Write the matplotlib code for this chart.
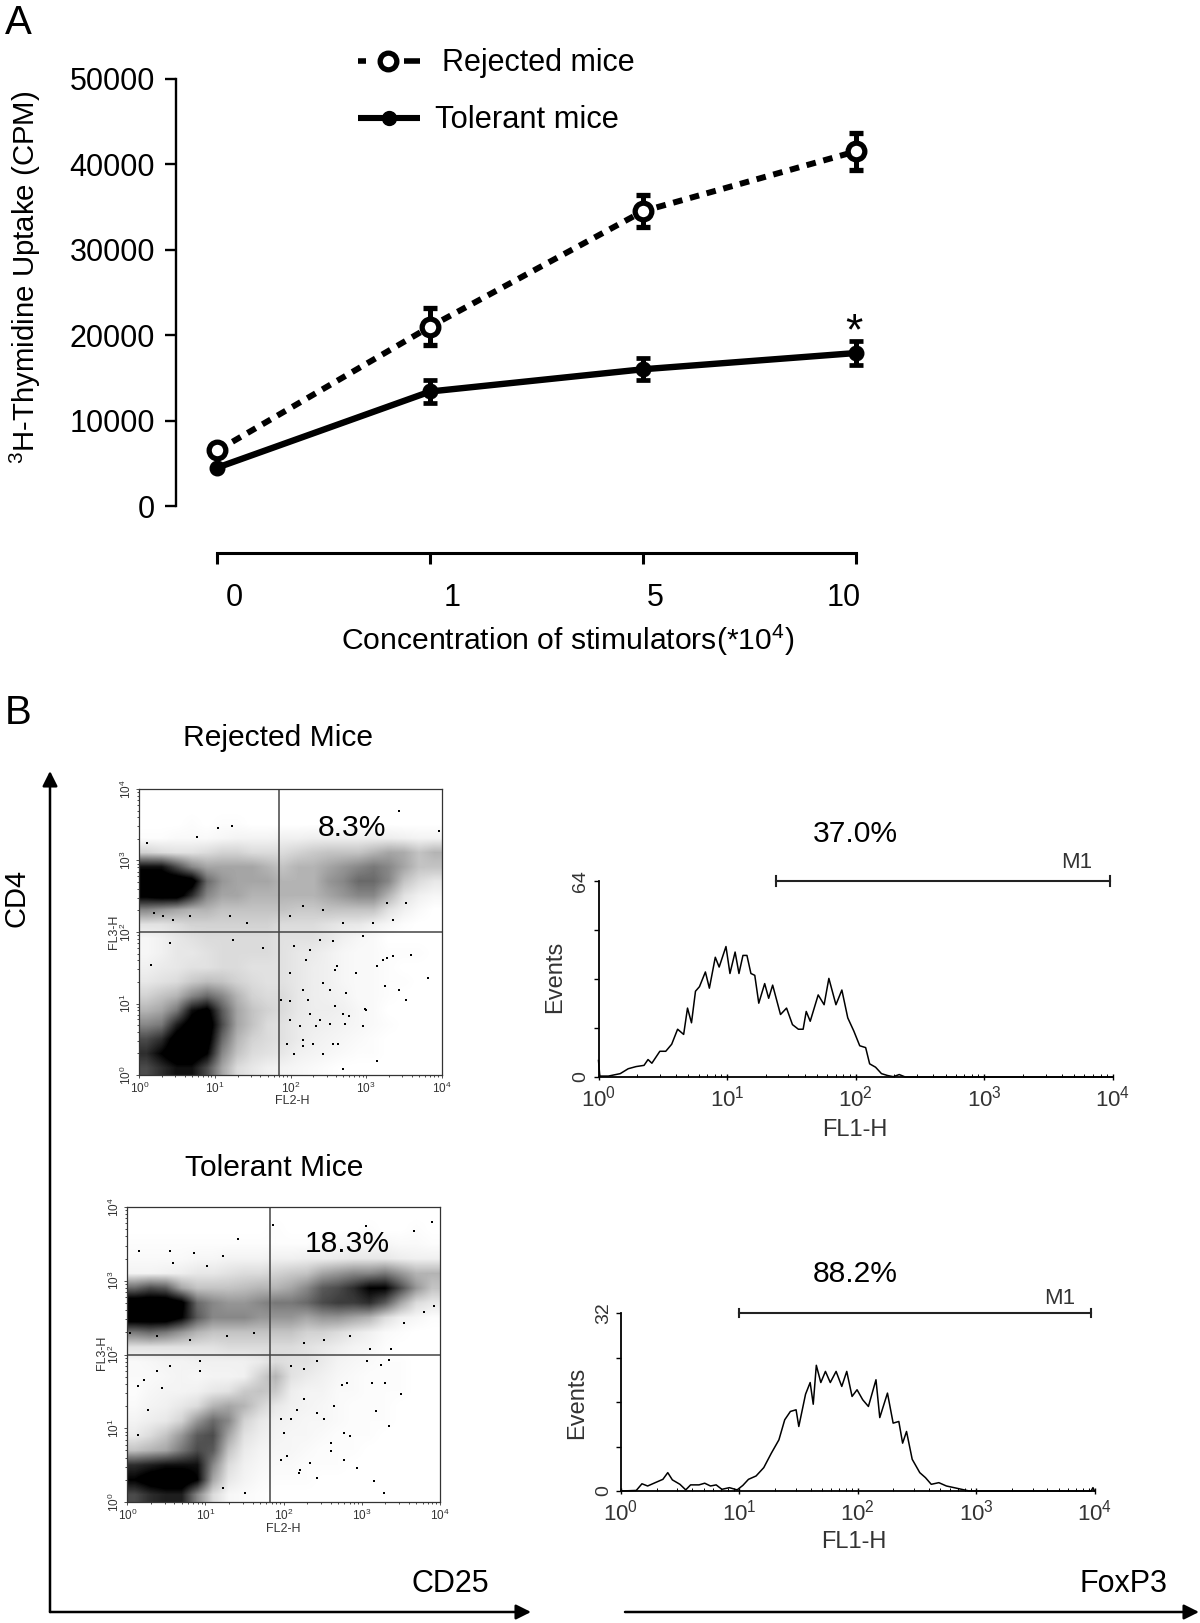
from __future__ import annotations

import matplotlib
matplotlib.use("Agg")
import matplotlib.pyplot as plt
import numpy as np
from matplotlib.ticker import FixedLocator, LogLocator, NullFormatter

W, H = 1200, 1623

# panel A
CONC_LABELS = ["0", "1", "5", "10"]
REJECTED = [6500, 21000, 34500, 41500]
REJECTED_ERR = [0, 2200, 1900, 2200]
TOLERANT = [4500, 13400, 16000, 17900]
TOLERANT_ERR = [0, 1400, 1300, 1400]
Y_TICKS = [0, 10000, 20000, 30000, 40000, 50000]

# panel B dot plots: share of dark pixels per 0.2 x 0.2 decade cell, top row = high FL3-H
DENSITY_REJECTED = [
    [0] * 20,
    [0] * 20,
    [0, 0, 0, .01, 0, .01, .01, 0, 0, 0, 0, 0, 0, 0, 0, 0, 0, 0, 0, 0],
    [.01, .01, .02, .02, .02, .03, .04, .04, .04, .05, .05, .06, .06, .06, .06, .06, .06, .05, .04, .04],
    [.15, .12, .1, .1, .12, .15, .15, .12, .12, .12, .15, .18, .2, .2, .2, .25, .3, .28, .2, .25],
    [.8, .8, .6, .4, .3, .3, .3, .3, .25, .2, .25, .25, .3, .35, .4, .45, .4, .3, .2, .2],
    [1, 1, 1, .95, .5, .35, .3, .3, .3, .25, .25, .25, .35, .4, .5, .5, .4, .2, .12, .08],
    [.9, .95, .95, .7, .4, .3, .3, .25, .25, .25, .25, .25, .3, .35, .4, .4, .25, .1, .05, .03],
    [.4, .35, .3, .25, .25, .2, .2, .2, .2, .2, .18, .18, .2, .2, .2, .2, .1, .05, .02, 0],
    [.1, .1, .12, .15, .15, .15, .15, .15, .15, .12, .12, .12, .1, .08, .08, .05, .03, .01, 0, 0],
    [.03, .05, .08, .1, .12, .12, .12, .12, .12, .1, .1, .1, .08, .05, .03, .02, 0, 0, 0, 0],
    [.03, .05, .08, .08, .1, .12, .12, .12, .12, .1, .08, .07, .05, .03, .02, .02, .01, .01, .01, 0],
    [.05, .07, .08, .1, .1, .12, .12, .1, .1, .1, .08, .06, .05, .03, .02, .02, .01, 0, 0, 0],
    [.08, .1, .12, .18, .22, .2, .15, .12, .1, .1, .08, .06, .05, .03, .02, .02, .01, .01, 0, 0],
    [.15, .2, .25, .4, .5, .4, .25, .15, .12, .12, .08, .06, .05, .04, .02, .02, .01, 0, 0, 0],
    [.25, .3, .45, .8, .9, .55, .3, .2, .15, .12, .08, .06, .06, .05, .03, .02, 0, 0, 0, 0],
    [.4, .45, .75, .95, 1, .6, .3, .2, .12, .1, .07, .06, .05, .04, .03, .02, .01, 0, 0, 0],
    [.6, .7, .95, 1, .95, .5, .25, .15, .12, .1, .07, .05, .04, .03, .02, .01, 0, 0, 0, 0],
    [.7, .85, 1, 1, .85, .4, .2, .12, .1, .08, .05, .04, .03, .02, .01, .01, 0, 0, 0, 0],
    [.6, .7, .8, .8, .6, .3, .12, .08, .05, .04, .03, .02, .01, 0, 0, 0, 0, 0, 0, 0],
]
DENSITY_TOLERANT = [
    [0] * 20,
    [0, 0, 0, 0, 0, 0, 0, 0, 0, .01, 0, 0, 0, 0, 0, .01, 0, 0, .01, 0],
    [.01, .01, .01, .01, .01, .01, .01, .01, .01, .01, .01, .01, .02, .02, .03, .03, .03, .02, .02, .01],
    [.02, .02, .02, .02, .03, .03, .04, .04, .04, .05, .05, .06, .06, .07, .08, .08, .08, .06, .05, .05],
    [.04, .04, .05, .06, .08, .08, .1, .12, .12, .15, .18, .2, .3, .35, .4, .4, .45, .35, .25, .25],
    [.5, .6, .55, .3, .2, .2, .2, .22, .25, .25, .3, .4, .55, .6, .7, .85, .85, .6, .35, .2],
    [1, 1, 1, .9, .5, .4, .35, .35, .4, .45, .45, .5, .6, .65, .65, .7, .55, .3, .12, .08],
    [1, 1, 1, .85, .55, .4, .4, .4, .35, .35, .35, .3, .35, .35, .3, .25, .12, .05, .03, .01],
    [.45, .5, .45, .35, .25, .2, .2, .2, .2, .2, .2, .15, .15, .12, .08, .05, .02, .01, 0, 0],
    [.1, .1, .1, .1, .1, .1, .12, .12, .12, .12, .12, .1, .08, .06, .04, .03, .01, 0, 0, 0],
    [.02, .03, .04, .04, .05, .05, .05, .05, .07, .12, .1, .1, .07, .04, .03, .02, .01, .01, 0, 0],
    [.02, .02, .03, .04, .03, .04, .04, .05, .15, .25, .1, .07, .05, .03, .02, .01, .01, .01, 0, 0],
    [.01, .03, .04, .04, .05, .08, .1, .18, .2, .18, .06, .04, .04, .02, .02, .01, .01, .01, 0, 0],
    [.02, .04, .05, .08, .12, .25, .3, .25, .15, .08, .05, .04, .03, .02, .01, .01, .01, 0, 0, 0],
    [.04, .06, .08, .15, .35, .5, .4, .15, .08, .05, .04, .03, .03, .02, .01, .01, .01, 0, 0, 0],
    [.07, .12, .2, .35, .55, .6, .3, .1, .06, .04, .03, .03, .02, .01, .01, .01, 0, 0, 0, 0],
    [.2, .25, .3, .45, .6, .55, .2, .07, .04, .03, .03, .02, .01, .01, .01, 0, 0, 0, 0, 0],
    [.7, .75, .8, .8, .8, .4, .12, .05, .03, .02, .02, .01, .01, .01, 0, 0, 0, 0, 0, 0],
    [.85, .95, 1, 1, .85, .3, .08, .04, .02, .01, .01, .01, 0, 0, 0, 0, 0, 0, 0, 0],
    [.6, .7, .75, .75, .4, .12, .03, .02, .01, 0, 0, 0, 0, 0, 0, 0, 0, 0, 0, 0],
]
# isolated events, in decades
SPARSE_REJECTED_X = [3.44, 1.04, 1.22, .76, .1, 3.82, 3.53, 3.6, 3.27, 3, 3.14, 3.44, 3.25, 2.96, 2.7, 2.43, 2.17, 2.04, 2.78, 2.52, 2.59, .16, .4, 1.24, 1.64, 2.26, 3.97,
                     1.99, 2.17, 2.26, 2.43, 2.61, 2.74, 1.99, 2.12, 2.34, 2.52, 2.7, 2.87, 3.14, 2.04, 2.21, 2.39, 2.56, 2.96, 1.88, 1.99, 1.95, 2.17, 2.3, 2.56, 2.63, 2.39, 2.23, 2.59, 2.72, 2.98, 3.22, 3.36,
                     .19, .32, .45, .67, 1.2, 1.42, 1.99, 2.17, 2.43, 2.7, 3.09, 3.36, 3.53, 3.27]
SPARSE_REJECTED_Y = [3.69, 3.46, 3.48, 3.33, 3.25, 1.36, 1.05, 1.68, 1.64, .91, .19, 1.19, 1.24, .68, .09, .3, .49, .3, .82, 1.19, 1.47, 1.54, 1.85, 1.89, 1.78, 1.75, 3.41,
                     1.43, 1.19, .86, 1.29, 1.52, 1.14, .77, .68, .68, .72, .86, 1.43, 1.52, 1.8, 1.61, 1.89, 1.87, 1.94, 1.05, 1.03, .44, .4, .44, .44, .44, .77, 1.05, .96, .72, .93, 1.61, 1.66,
                     2.27, 2.22, 2.17, 2.22, 2.22, 2.13, 2.22, 2.36, 2.31, 2.13, 2.13, 2.17, 2.41, 2.41]
SPARSE_TOLERANT_X = [1.87, 3.9, 3.05, 3.67, 1.42, .15, .55, 3.3, 3.5, 3.35, 3.18, 3.28, 3.15, 2.94, 2.6, 2.43, 2.19, 1.96, 2.85, .14, .44, .93, 2.75, 3.13, 1.51, 1.23,
                     1.96, 2, 2.09, 2.17, 2.26, 2.43, 2.51, 2.64, 2.77, 2.26, 2.43, 2.09, 2.81, 3.07, 3.24, 3.35, 2.34, 2.77, 2.21, 2.04, 2.6, .21, .38, .55, .93, .27, .14,
                     .03, .38, .8, 1.27, 1.62, 2.26, 2.51, 2.85, 3.11, 3.37, 3.79, 3.92, 3.54, .59, 1.02, 1.23, .85]
SPARSE_TOLERANT_Y = [3.76, 3.79, 3.74, 3.67, 3.56, 3.4, 3.4, 1.62, 1.47, 1.03, 1.23, .12, .28, .46, .69, .33, .39, .57, .89, 1.57, 1.55, 1.77, 1.59, 1.62, .12, .19,
                     1.12, .94, 1.12, 1.25, 1.39, 1.21, 1.12, 1.3, .94, 1.8, 1.91, 1.84, 1.62, 1.91, 1.86, 1.93, .53, .57, .44, .62, .8, 1.66, 1.77, 1.84, 1.91, 1.25, .91,
                     2.29, 2.25, 2.2, 2.25, 2.29, 2.16, 2.2, 2.25, 2.07, 2.07, 2.57, 2.66, 2.43, 3.24, 3.2, 3.33, 3.38]

# panel B histograms: FL1-H position in decades, events
HIST1_X = [0, .01, .077, .169, .231, .292, .354, .385, .415, .477, .523, .569, .615, .662, .692, .723, .754, .785, .831, .862, .908, .938, .991, 1.022, 1.062, 1.092, 1.123, 1.154, 1.185, 1.215, 1.246, 1.292, 1.323, 1.354, 1.415, 1.462, 1.508, 1.554, 1.591, 1.615, 1.646, 1.708, 1.754, 1.791, 1.846, 1.892, 1.938, 1.985, 2.031, 2.077, 2.108, 2.154, 2.2, 2.246, 2.292, 2.338, 2.385, 4]
HIST1_Y = [5.4, .3, .3, 1.1, 2.7, 3.4, 3.8, 5.7, 4.5, 8.4, 8.4, 10.7, 15.6, 13.9, 22.5, 17.7, 28, 29.5, 34.3, 29, 39.1, 35.9, 42.6, 33.8, 40.8, 33.8, 39.7, 39.7, 33.8, 33.2, 24.1, 30.5, 25.7, 30, 20.4, 22.5, 17.1, 15.6, 15.6, 21.4, 18.2, 26.8, 23.6, 32.2, 23.6, 28.4, 19.3, 15, 10.2, 9.6, 4.3, 3.2, 1.1, .5, .1, .8, 0, 0]
HIST2_X = [0, .129, .177, .225, .289, .354, .395, .434, .498, .547, .588, .659, .707, .756, .804, .852, .916, .981, 1.029, 1.077, 1.141, 1.206, 1.27, 1.334, 1.383, 1.431, 1.479, 1.502, 1.559, 1.598, 1.624, 1.65, 1.688, 1.727, 1.768, 1.817, 1.865, 1.907, 1.952, 1.994, 2.042, 2.09, 2.154, 2.186, 2.251, 2.299, 2.347, 2.379, 2.412, 2.46, 2.524, 2.572, 2.621, 2.685, 2.749, 2.814, 2.878, 2.942, 3.971, 3.987, 4]
HIST2_Y = [0, .1, 1.3, .9, 1.5, 2.1, 3.3, 2, 1.2, .2, 1.1, 1.1, 1.4, .9, 1.1, .3, .6, .2, 1, 2.1, 2.7, 4.2, 6.8, 9.2, 12.8, 14.3, 14.6, 11.6, 17.4, 19.5, 15.6, 22.6, 19.5, 21.5, 19.5, 21.5, 18.8, 21.5, 17, 18.2, 16.4, 15.2, 20, 13.2, 17.6, 12.2, 12.5, 8.6, 10.7, 5.7, 3.3, 2.4, 1.2, 1.5, .9, .6, .3, 0, 0, .6, 0]
M1_HIST1 = [1.38, 3.98]
M1_HIST2 = [1.0, 3.97]


def px_axes(fig, left, top, right, bottom):
    return fig.add_axes([left / W, 1 - bottom / H, (right - left) / W, (bottom - top) / H])


def dot_plot(fig, box, density, sx, sy, gate_x, gate_y):
    ax = px_axes(fig, *box)
    ax.imshow(np.array(density), cmap="gray_r", vmin=0, vmax=0.85, extent=(0, 4, 0, 4), aspect="auto", interpolation="bilinear")
    ax.scatter(sx, sy, s=4, c="black", marker="s", linewidths=0)
    ax.axvline(gate_x, color="#444444", lw=1.1)
    ax.axhline(gate_y, color="#444444", lw=1.1)
    for s in ax.spines.values():
        s.set_linewidth(0.9)
        s.set_color("#333333")
    ticks = [0, 1, 2, 3, 4]
    minor = [k + np.log10(m) for k in range(4) for m in range(2, 10)]
    ax.set_xticks(ticks)
    ax.set_yticks(ticks)
    ax.set_xticks(minor, minor=True)
    ax.set_yticks(minor, minor=True)
    ax.set_xticklabels([f"$10^{{{t}}}$" for t in ticks], fontsize=8.5, color="#333333")
    ax.set_yticklabels([f"$10^{{{t}}}$" for t in ticks], fontsize=8.5, color="#333333", rotation=90, va="center")
    ax.tick_params(length=2.5, width=0.6, pad=1.5, color="#333333")
    ax.tick_params(which="minor", length=1.5, width=0.5)
    return ax


def histogram(fig, box, xs, ys, ymax, marker):
    ax = px_axes(fig, *box)
    ax.set_xscale("log")
    ax.plot(10 ** np.array(xs), ys, color="black", lw=1.1, clip_on=False)
    ax.set_xlim(1, 10000)
    ax.set_ylim(0, ymax)
    for name in ["top", "right"]:
        ax.spines[name].set_visible(False)
    ax.spines["left"].set_linewidth(1.3)
    ax.spines["bottom"].set_linewidth(1.3)
    ax.xaxis.set_major_locator(FixedLocator([1, 10, 100, 1000, 10000]))
    ax.xaxis.set_minor_locator(LogLocator(base=10, subs=range(2, 10), numticks=10))
    ax.xaxis.set_minor_formatter(NullFormatter())
    ax.set_xticklabels([f"$10^{{{t}}}$" for t in range(5)], fontsize=16, color="#333333")
    ax.set_yticks([0, ymax / 4, ymax / 2, 3 * ymax / 4, ymax])
    ax.set_yticklabels(["0", "", "", "", str(ymax)], fontsize=14, color="#333333", rotation=90, va="center")
    ax.tick_params(axis="x", which="major", direction="inout", length=5, width=1, pad=4)
    ax.tick_params(axis="x", which="minor", direction="in", length=2.5, width=0.7)
    ax.tick_params(axis="y", length=3.5, width=1, pad=3)
    ax.plot([10 ** marker[0], 10 ** marker[1]], [ymax] * 2, color="#222222", lw=1.5, clip_on=False)
    for m in marker:
        ax.plot([10 ** m] * 2, [ymax * 0.975, ymax * 1.025], color="#222222", lw=1.5, clip_on=False)
    return ax


def main() -> None:
    plt.rcParams["font.family"] = ["Liberation Sans", "DejaVu Sans"]
    plt.rcParams["mathtext.fontset"] = "custom"
    plt.rcParams["mathtext.rm"] = "Liberation Sans"
    plt.rcParams["mathtext.default"] = "regular"

    fig = plt.figure(figsize=(W / 100, H / 100), dpi=100)

    # panel A
    ax = px_axes(fig, 176, 78.7, 870, 506)
    xs = np.arange(len(CONC_LABELS))
    ax.set_xlim(-0.195, 3.066)
    ax.set_ylim(0, 50000)
    ax.errorbar(xs, REJECTED, yerr=REJECTED_ERR, color="black", lw=4.3, ls=(0, (1.6, 1.3)), elinewidth=3.6, capsize=5, capthick=3.4,
                marker="o", ms=12, mfc="white", mec="black", mew=3.8, clip_on=False)
    ax.errorbar(xs, TOLERANT, yerr=TOLERANT_ERR, color="black", lw=4.6, elinewidth=3.6, capsize=5, capthick=3.4,
                marker="o", ms=10.5, mfc="black", mec="black", clip_on=False)
    for name in ["top", "right"]:
        ax.spines[name].set_visible(False)
    ax.spines["left"].set_linewidth(1.7)
    ax.spines["bottom"].set_linewidth(2.2)
    ax.spines["bottom"].set_position(("outward", 34))
    ax.spines["bottom"].set_bounds(0, 3)
    ax.set_yticks(Y_TICKS)
    ax.set_xticks(xs)
    ax.set_xticklabels([])
    ax.tick_params(axis="y", length=8, width=1.7, labelsize=22, pad=7)
    ax.tick_params(axis="x", length=8, width=2.2)

    # panel B plots
    dot_plot(fig, (139.3, 789, 441.7, 1075), DENSITY_REJECTED, SPARSE_REJECTED_X, SPARSE_REJECTED_Y, 1.85, 2.0)
    dot_plot(fig, (127.3, 1207, 440, 1502), DENSITY_TOLERANT, SPARSE_TOLERANT_X, SPARSE_TOLERANT_Y, 1.83, 2.0)
    histogram(fig, (598.5, 881, 1113, 1077), HIST1_X, HIST1_Y, 64, M1_HIST1)
    histogram(fig, (621, 1313, 1094.5, 1491), HIST2_X, HIST2_Y, 32, M1_HIST2)

    # overlay in pixel coordinates: texts, legend keys, arrows
    ov = fig.add_axes([0, 0, 1, 1], zorder=5)
    ov.set_xlim(0, W)
    ov.set_ylim(H, 0)
    ov.axis("off")

    def label(x, y, s, size=20, ha="center", rot=0, color="black"):
        # liberation sits a little high when centred
        ov.text(x, y + (2.5 if rot == 0 else 0), s, fontsize=size, ha=ha, va="center", rotation=rot, color=color)

    label(5, 21, "A", 29, ha="left")
    label(5, 711, "B", 29, ha="left")
    label(25, 277, "$^{3}$H-Thymidine Uptake (CPM)", 21.2, rot=90)
    for x, s in zip([234, 452.5, 655, 844], CONC_LABELS):
        label(x, 596, s, 22)
    label(568, 638, "Concentration of stimulators(*10$^{4}$)", 21.7)
    label(854, 330, "*", 32)

    ov.plot([358, 366], [61, 61], color="black", lw=4, solid_capstyle="butt")
    ov.plot([404, 420], [61, 61], color="black", lw=4, solid_capstyle="butt")
    ov.plot([388], [61], "o", ms=12, mfc="white", mec="black", mew=3.8)
    label(442, 61, "Rejected mice", 22, ha="left")
    ov.plot([358, 420], [118, 118], color="black", lw=4.4, solid_capstyle="butt")
    ov.plot([389], [118], "o", ms=10, color="black")
    label(435, 118, "Tolerant mice", 22.2, ha="left")

    label(278, 735, "Rejected Mice", 21.6)
    label(274, 1166, "Tolerant Mice", 21.6)
    label(17, 898, "CD4", 21, rot=90)
    label(450, 1581, "CD25", 22)
    label(1124, 1581, "FoxP3", 22)
    label(352, 826, "8.3%", 21.6)
    label(347, 1242, "18.3%", 21.6)
    label(855, 831, "37.0%", 21.6)
    label(855, 1271, "88.2%", 21.6)

    grey = "#333333"
    label(114, 932, "FL3-H", 9, rot=90, color=grey)
    label(292, 1098, "FL2-H", 9, color=grey)
    label(102, 1353, "FL3-H", 9, rot=90, color=grey)
    label(283, 1527, "FL2-H", 9, color=grey)
    label(555, 977, "Events", 17, rot=90, color=grey)
    label(855, 1127, "FL1-H", 17, color=grey)
    label(577, 1403, "Events", 17, rot=90, color=grey)
    label(854, 1539, "FL1-H", 17, color=grey)
    label(1077, 860, "M1", 16, color=grey)
    label(1060, 1296, "M1", 16, color=grey)

    arrow = dict(arrowstyle="-|>,head_width=0.45,head_length=0.9", color="black", lw=1.8, shrinkA=0, shrinkB=0)
    ov.annotate("", xy=(50, 771), xytext=(50, 1612), arrowprops=arrow)
    ov.annotate("", xy=(531, 1612), xytext=(50, 1612), arrowprops=arrow)
    ov.annotate("", xy=(1199, 1612), xytext=(625, 1612), arrowprops=arrow)

    fig.savefig("out.png", dpi=100)
    plt.close(fig)


if __name__ == "__main__":
    main()
